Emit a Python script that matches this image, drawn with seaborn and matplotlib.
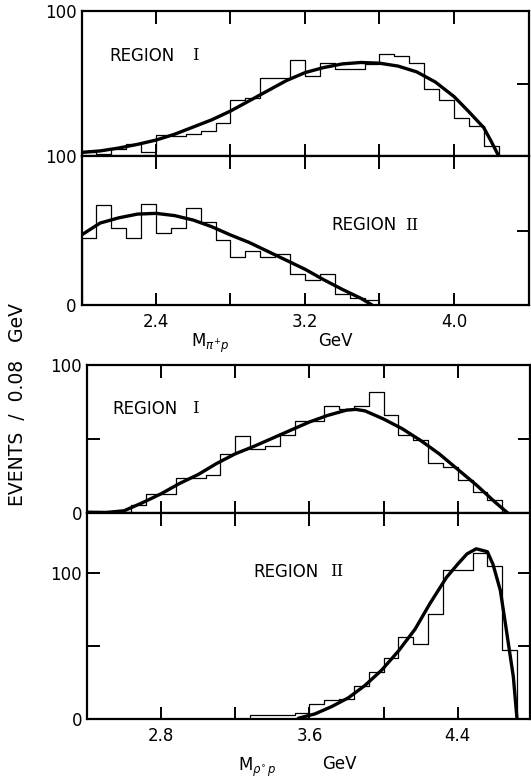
import numpy as np
import pandas as pd
import matplotlib
matplotlib.use("Agg")
import matplotlib.pyplot as plt
import seaborn as sns

# figure size in pixels (dpi 100)
W, H = 531, 782

bin_width = 0.08

# M(pi+ p) spectra, bins start at 2.00 GeV
pip_bin_start = 2.00
pip_region1_counts = [2.5, 1.5, 4.5, 8.5, 2.5, 14.5, 13.5, 15, 17.5, 23,
                      38.5, 40, 54, 54, 66, 55, 64, 60, 60, 63.5,
                      70.5, 69, 64, 46, 38.5, 26, 20.5, 7]
pip_region1_curve_x = [2.0, 2.1, 2.2, 2.3, 2.4, 2.5, 2.6, 2.7, 2.8, 2.9, 3.0, 3.1, 3.2,
                       3.3, 3.4, 3.5, 3.6, 3.7, 3.8, 3.9, 4.0, 4.08, 4.16, 4.2, 4.22, 4.24]
pip_region1_curve_y = [2.5, 3.5, 5.5, 8, 11, 15, 20, 25, 31, 38, 45, 52, 57.5,
                       61, 63.5, 64.5, 64, 62, 58, 51, 41, 30.5, 19.5, 10, 5, 0]

pip_region2_counts = [45, 67, 52, 45, 67.5, 48.5, 52, 65, 56, 43.5,
                      32, 36.5, 32, 34.5, 21, 17, 21, 7.5, 5, 3.5]
pip_region2_curve_x = [2.0, 2.1, 2.2, 2.3, 2.4, 2.5, 2.6, 2.7, 2.8, 2.9, 3.0,
                       3.1, 3.2, 3.3, 3.4, 3.5, 3.56]
pip_region2_curve_y = [47, 55, 58.5, 61, 61.5, 60, 57, 52.5, 47, 42, 36,
                       30, 24, 17, 10.5, 4.5, 0]

# M(rho0 p) spectra
rho_region1_bin_start = 2.40
rho_region1_counts = [1.5, 1.5, 1, 5.5, 13, 13, 23.5, 23.5, 26, 40,
                      52, 43, 45.5, 52.5, 62.5, 62.5, 72.5, 70.5, 72, 81.5,
                      66, 53, 49.5, 34, 31, 22.5, 14.5, 8.5]
rho_region1_curve_x = [2.4, 2.5, 2.6, 2.7, 2.8, 2.9, 3.0, 3.1, 3.2, 3.3, 3.4, 3.5, 3.6,
                       3.7, 3.8, 3.85, 3.9, 4.0, 4.1, 4.2, 4.3, 4.4, 4.5, 4.6, 4.67]
rho_region1_curve_y = [0.5, 0.3, 1.5, 7, 13, 20, 26, 33.5, 40, 45, 50.5, 56, 61.5,
                       66, 69.5, 70, 69, 63.5, 57, 49, 40, 29.5, 19, 7.5, 0]

rho_region2_bin_start = 3.28
rho_region2_counts = [3, 3, 3, 4, 10.5, 13, 13.5, 22.5, 32, 42,
                      56, 51, 72, 102, 102, 113.5, 105, 47]
rho_region2_curve_x = [3.54, 3.63, 3.72, 3.81, 3.90, 3.99, 4.08, 4.17, 4.25, 4.34,
                       4.40, 4.45, 4.50, 4.56, 4.59, 4.63, 4.66, 4.70, 4.72]
rho_region2_curve_y = [0.5, 3.5, 8.5, 14.5, 23, 33.5, 46.5, 61.5, 79, 97,
                       106, 113, 116.5, 114.5, 106, 88, 63, 29, 0]

sns.set_theme(style="white")
plt.rcParams["font.family"] = ["DejaVu Sans"]
plt.rcParams["mathtext.fontset"] = "dejavusans"


def box(left, top, right, bottom):
    return [left / W, 1 - bottom / H, (right - left) / W, (bottom - top) / H]


def draw_panel(ax, start, counts, cx, cy):
    n = len(counts)
    # one empty bin on each side so the outline drops to zero at the ends
    edges = (start + bin_width * np.arange(-1, n + 2)).tolist()
    df = pd.DataFrame({
        "mass": start + bin_width * (np.arange(n) + 0.5),
        "events": counts,
    })
    sns.histplot(data=df, x="mass", weights="events", bins=edges, element="step",
                 fill=False, color="black", linewidth=0.9, ax=ax)
    sns.lineplot(x=cx, y=cy, color="black", linewidth=2.4, errorbar=None, ax=ax)
    ax.set_xlabel("")
    ax.set_ylabel("")
    for s in ax.spines.values():
        s.set_visible(True)
        s.set_color("black")
        s.set_linewidth(1.6)
    ax.tick_params(direction="in", length=9, width=1.4, top=True, right=True,
                   bottom=True, left=True, labelsize=12, colors="black")
    ax.tick_params(axis="y", pad=3.5)
    ax.tick_params(axis="x", pad=6)
    ax.set_facecolor("white")


fig = plt.figure(figsize=(W / 100, H / 100), dpi=100)
fig.patch.set_facecolor("white")

ax_a = fig.add_axes(box(81.5, 11, 528.5, 156))
ax_b = fig.add_axes(box(81.5, 156, 528.5, 305))
ax_c = fig.add_axes(box(87, 365, 530, 513))
ax_d = fig.add_axes(box(87, 513, 530, 719))

draw_panel(ax_a, pip_bin_start, pip_region1_counts, pip_region1_curve_x, pip_region1_curve_y)
draw_panel(ax_b, pip_bin_start, pip_region2_counts, pip_region2_curve_x, pip_region2_curve_y)
draw_panel(ax_c, rho_region1_bin_start, rho_region1_counts, rho_region1_curve_x, rho_region1_curve_y)
draw_panel(ax_d, rho_region2_bin_start, rho_region2_counts, rho_region2_curve_x, rho_region2_curve_y)

pip_ticks = [2.4, 2.8, 3.2, 3.6, 4.0]
pip_tick_labels = ["2.4", "", "3.2", "", "4.0"]
rho_ticks = [2.8, 3.2, 3.6, 4.0, 4.4]
rho_tick_labels = ["2.8", "", "3.6", "", "4.4"]

for ax in (ax_a, ax_b):
    ax.set_xlim(2.0, 4.4)
    ax.set_ylim(0, 100)
    ax.set_xticks(pip_ticks)
    ax.set_xticklabels(pip_tick_labels if ax is ax_b else [""] * 5)
    ax.set_yticks([0, 50, 100])
ax_a.set_yticklabels(["", "", "100"])
ax_b.set_yticklabels(["0", "", "100"])
for ax in (ax_a, ax_b):
    for t in ax.yaxis.get_major_ticks():
        t.tick1line.set_visible(False)

ax_c.set_xlim(2.4, 4.79)
ax_c.set_ylim(0, 100)
ax_c.set_yticks([0, 50, 100])
ax_c.set_yticklabels(["0", "", "100"])
ax_d.set_xlim(2.4, 4.79)
ax_d.set_ylim(0, 141)
ax_d.set_yticks([0, 50, 100])
ax_d.set_yticklabels(["0", "", "100"])
for ax in (ax_c, ax_d):
    ax.set_xticks(rho_ticks)
    ax.set_xticklabels(rho_tick_labels if ax is ax_d else [""] * 5)


def label(x, y, s, size=12, family="DejaVu Sans", **kw):
    fig.text(x / W, 1 - y / H, s, fontsize=size, family=family,
             va="center", ha="left", color="black", **kw)


# region labels
label(109, 56, "REGION")
label(192, 56, "I", family="DejaVu Serif")
label(331, 225, "REGION")
label(405, 225, "II", family="DejaVu Serif")
label(112, 409, "REGION")
label(192, 409, "I", family="DejaVu Serif")
label(253, 572, "REGION")
label(330, 572, "II", family="DejaVu Serif")

# axis titles
label(191, 343, r"M$_{\pi^{+}p}$")
label(318, 341, "GeV")
label(238, 767, r"M$_{\rho^{\circ}\,p}$")
label(322, 764, "GeV")
fig.text(18 / W, 1 - 404 / H, "EVENTS  /  0.08   GeV", fontsize=13.5, rotation=90,
         va="center", ha="center", color="black")

fig.savefig("out.png", dpi=100, facecolor="white")
